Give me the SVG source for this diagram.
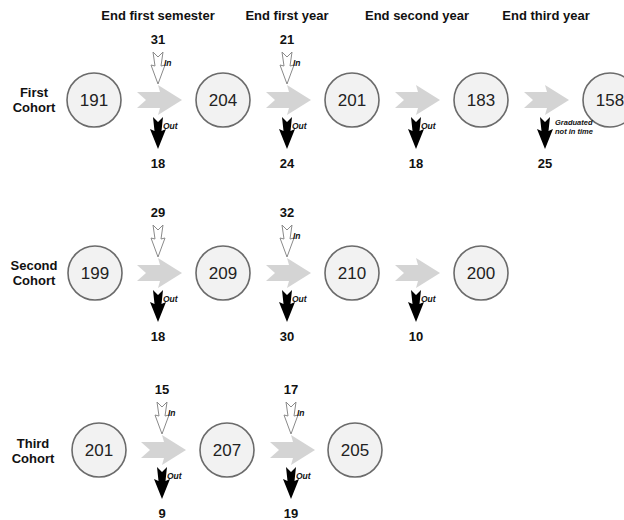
<svg xmlns="http://www.w3.org/2000/svg" xmlns:xlink="http://www.w3.org/1999/xlink" width="624" height="520" viewBox="0 0 624 520">
<style>
.hdr{font-family:"Liberation Sans",Arial,sans-serif;font-weight:bold;font-size:13px;fill:#111;text-anchor:middle}
.num{font-family:"Liberation Sans",Arial,sans-serif;font-weight:bold;font-size:13px;fill:#111;text-anchor:middle}
.node circle{fill:#f2f2f2;stroke:#6b6b6b;stroke-width:1.6}
.node text{font-family:"Liberation Sans",Arial,sans-serif;font-size:17px;fill:#222;text-anchor:middle}
.lbl{font-family:"Liberation Sans",Arial,sans-serif;font-weight:bold;font-style:italic;font-size:8.5px;fill:#111}
.lbl2{font-family:"Liberation Sans",Arial,sans-serif;font-weight:bold;font-style:italic;font-size:7.5px;fill:#111}
</style>
<defs>
<polygon id="gray" points="-21,-8 2,-8 0,-15 24,0 0,15 2,8 -21,8 -12,0" fill="#d4d4d4"/>
<polygon id="inA" points="-5,-48 0,-43 5,-48 3,-34 7,-35 0,-16 -7,-35 -3,-34" fill="#fff" stroke="#8a8a8a" stroke-width="1"/>
<polygon id="outA" points="-5,17 0,22 5,17 3.5,31 8,29 0,49 -8,29 -3.5,31" fill="#000"/>
</defs>
<g id="headers">
<text class="hdr" x="158" y="20">End first semester</text>
<text class="hdr" x="287" y="20">End first year</text>
<text class="hdr" x="417" y="20">End second year</text>
<text class="hdr" x="546" y="20">End third year</text>
</g>
<g id="rowlabels">
<text class="hdr" x="34" y="97">First</text>
<text class="hdr" x="34" y="112">Cohort</text>
<text class="hdr" x="34" y="270">Second</text>
<text class="hdr" x="34" y="285">Cohort</text>
<text class="hdr" x="33" y="448">Third</text>
<text class="hdr" x="33" y="463">Cohort</text>
</g>
<g id="n1_1" class="node"><circle cx="94" cy="100" r="27"/><text x="94" y="106">191</text></g>
<g id="n1_2" class="node"><circle cx="223" cy="100" r="27"/><text x="223" y="106">204</text></g>
<g id="n1_3" class="node"><circle cx="352" cy="100" r="27"/><text x="352" y="106">201</text></g>
<g id="n1_4" class="node"><circle cx="481" cy="100" r="27"/><text x="481" y="106">183</text></g>
<g id="n1_5" class="node"><circle cx="610" cy="100" r="27"/><text x="610" y="106">158</text></g>
<g id="n2_1" class="node"><circle cx="95" cy="273" r="27"/><text x="95" y="279">199</text></g>
<g id="n2_2" class="node"><circle cx="223" cy="273" r="27"/><text x="223" y="279">209</text></g>
<g id="n2_3" class="node"><circle cx="352" cy="273" r="27"/><text x="352" y="279">210</text></g>
<g id="n2_4" class="node"><circle cx="481" cy="273" r="27"/><text x="481" y="279">200</text></g>
<g id="n3_1" class="node"><circle cx="99" cy="450" r="27"/><text x="99" y="456">201</text></g>
<g id="n3_2" class="node"><circle cx="227" cy="450" r="27"/><text x="227" y="456">207</text></g>
<g id="n3_3" class="node"><circle cx="355" cy="450" r="27"/><text x="355" y="456">205</text></g>
<g id="connectors">
<!-- row 1 -->
<use xlink:href="#gray" x="158" y="100"/><use xlink:href="#inA" x="158" y="100"/><use xlink:href="#outA" x="158" y="100"/>
<text class="num" x="158" y="44">31</text><text class="lbl" x="164" y="66">In</text><text class="lbl" x="163" y="129">Out</text><text class="num" x="158" y="168">18</text>
<use xlink:href="#gray" x="287" y="100"/><use xlink:href="#inA" x="287" y="100"/><use xlink:href="#outA" x="287" y="100"/>
<text class="num" x="287" y="44">21</text><text class="lbl" x="293" y="66">In</text><text class="lbl" x="292" y="129">Out</text><text class="num" x="287" y="168">24</text>
<use xlink:href="#gray" x="416" y="100"/><use xlink:href="#outA" x="416" y="100"/>
<text class="lbl" x="421" y="129">Out</text><text class="num" x="416" y="168">18</text>
<use xlink:href="#gray" x="545" y="100"/><use xlink:href="#outA" x="545" y="100"/>
<text class="lbl2" x="555" y="125">Graduated</text><text class="lbl2" x="555" y="134">not in time</text><text class="num" x="545" y="168">25</text>
<!-- row 2 -->
<use xlink:href="#gray" x="158" y="273"/><use xlink:href="#inA" x="158" y="273"/><use xlink:href="#outA" x="158" y="273"/>
<text class="num" x="158" y="217">29</text><text class="lbl" x="163" y="302">Out</text><text class="num" x="158" y="341">18</text>
<use xlink:href="#gray" x="287" y="273"/><use xlink:href="#inA" x="287" y="273"/><use xlink:href="#outA" x="287" y="273"/>
<text class="num" x="287" y="217">32</text><text class="lbl" x="293" y="239">In</text><text class="lbl" x="292" y="302">Out</text><text class="num" x="287" y="341">30</text>
<use xlink:href="#gray" x="416" y="273"/><use xlink:href="#outA" x="416" y="273"/>
<text class="lbl" x="421" y="302">Out</text><text class="num" x="416" y="341">10</text>
<!-- row 3 -->
<use xlink:href="#gray" x="162" y="450"/><use xlink:href="#inA" x="162" y="450"/><use xlink:href="#outA" x="162" y="450"/>
<text class="num" x="162" y="394">15</text><text class="lbl" x="168" y="416">In</text><text class="lbl" x="167" y="479">Out</text><text class="num" x="162" y="518">9</text>
<use xlink:href="#gray" x="291" y="450"/><use xlink:href="#inA" x="291" y="450"/><use xlink:href="#outA" x="291" y="450"/>
<text class="num" x="291" y="394">17</text><text class="lbl" x="297" y="416">In</text><text class="lbl" x="296" y="479">Out</text><text class="num" x="291" y="518">19</text>
</g>
</svg>
